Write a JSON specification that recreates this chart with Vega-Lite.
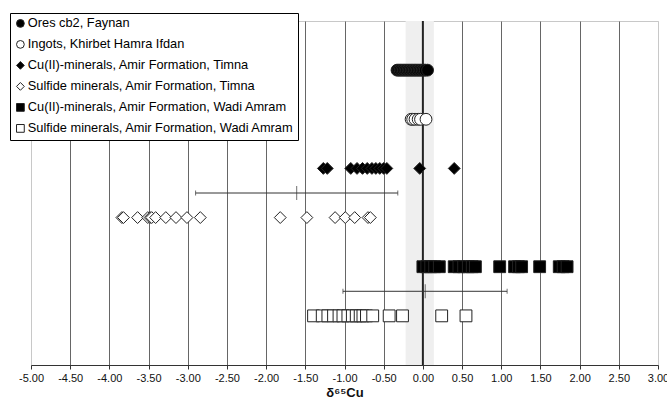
{
  "$schema": "https://vega.github.io/schema/vega-lite/v6.json",
  "width": 627,
  "height": 344,
  "autosize": {"type": "none"},
  "padding": {"left": 31, "top": 21, "right": 9, "bottom": 41},
  "background": "white",
  "config": {
    "view": {"stroke": "#c8c8c8", "strokeWidth": 1},
    "font": "Liberation Sans"
  },
  "datasets": {
    "pts": [
      {"series": "Ores cb2, Faynan", "x": -0.33, "row": 1},
      {"series": "Ores cb2, Faynan", "x": -0.31, "row": 1},
      {"series": "Ores cb2, Faynan", "x": -0.29, "row": 1},
      {"series": "Ores cb2, Faynan", "x": -0.27, "row": 1},
      {"series": "Ores cb2, Faynan", "x": -0.25, "row": 1},
      {"series": "Ores cb2, Faynan", "x": -0.23, "row": 1},
      {"series": "Ores cb2, Faynan", "x": -0.21, "row": 1},
      {"series": "Ores cb2, Faynan", "x": -0.19, "row": 1},
      {"series": "Ores cb2, Faynan", "x": -0.17, "row": 1},
      {"series": "Ores cb2, Faynan", "x": -0.15, "row": 1},
      {"series": "Ores cb2, Faynan", "x": -0.13, "row": 1},
      {"series": "Ores cb2, Faynan", "x": -0.11, "row": 1},
      {"series": "Ores cb2, Faynan", "x": -0.09, "row": 1},
      {"series": "Ores cb2, Faynan", "x": -0.07, "row": 1},
      {"series": "Ores cb2, Faynan", "x": -0.05, "row": 1},
      {"series": "Ores cb2, Faynan", "x": -0.03, "row": 1},
      {"series": "Ores cb2, Faynan", "x": -0.01, "row": 1},
      {"series": "Ores cb2, Faynan", "x": 0.01, "row": 1},
      {"series": "Ores cb2, Faynan", "x": 0.03, "row": 1},
      {"series": "Ores cb2, Faynan", "x": 0.06, "row": 1},
      {"series": "Ingots, Khirbet Hamra Ifdan", "x": -0.15, "row": 2},
      {"series": "Ingots, Khirbet Hamra Ifdan", "x": -0.13, "row": 2},
      {"series": "Ingots, Khirbet Hamra Ifdan", "x": -0.1, "row": 2},
      {"series": "Ingots, Khirbet Hamra Ifdan", "x": -0.06, "row": 2},
      {"series": "Ingots, Khirbet Hamra Ifdan", "x": -0.03, "row": 2},
      {"series": "Ingots, Khirbet Hamra Ifdan", "x": 0.04, "row": 2},
      {"series": "Cu(II)-minerals, Amir Formation, Timna", "x": -1.27, "row": 3},
      {"series": "Cu(II)-minerals, Amir Formation, Timna", "x": -1.22, "row": 3},
      {"series": "Cu(II)-minerals, Amir Formation, Timna", "x": -0.92, "row": 3},
      {"series": "Cu(II)-minerals, Amir Formation, Timna", "x": -0.84, "row": 3},
      {"series": "Cu(II)-minerals, Amir Formation, Timna", "x": -0.77, "row": 3},
      {"series": "Cu(II)-minerals, Amir Formation, Timna", "x": -0.71, "row": 3},
      {"series": "Cu(II)-minerals, Amir Formation, Timna", "x": -0.65, "row": 3},
      {"series": "Cu(II)-minerals, Amir Formation, Timna", "x": -0.6, "row": 3},
      {"series": "Cu(II)-minerals, Amir Formation, Timna", "x": -0.55, "row": 3},
      {"series": "Cu(II)-minerals, Amir Formation, Timna", "x": -0.5, "row": 3},
      {"series": "Cu(II)-minerals, Amir Formation, Timna", "x": -0.46, "row": 3},
      {"series": "Cu(II)-minerals, Amir Formation, Timna", "x": -0.04, "row": 3},
      {"series": "Cu(II)-minerals, Amir Formation, Timna", "x": 0.4, "row": 3},
      {"series": "Sulfide minerals, Amir Formation, Timna", "x": -3.84, "row": 4},
      {"series": "Sulfide minerals, Amir Formation, Timna", "x": -3.82, "row": 4},
      {"series": "Sulfide minerals, Amir Formation, Timna", "x": -3.64, "row": 4},
      {"series": "Sulfide minerals, Amir Formation, Timna", "x": -3.51, "row": 4},
      {"series": "Sulfide minerals, Amir Formation, Timna", "x": -3.48, "row": 4},
      {"series": "Sulfide minerals, Amir Formation, Timna", "x": -3.46, "row": 4},
      {"series": "Sulfide minerals, Amir Formation, Timna", "x": -3.41, "row": 4},
      {"series": "Sulfide minerals, Amir Formation, Timna", "x": -3.28, "row": 4},
      {"series": "Sulfide minerals, Amir Formation, Timna", "x": -3.15, "row": 4},
      {"series": "Sulfide minerals, Amir Formation, Timna", "x": -3.01, "row": 4},
      {"series": "Sulfide minerals, Amir Formation, Timna", "x": -2.84, "row": 4},
      {"series": "Sulfide minerals, Amir Formation, Timna", "x": -1.82, "row": 4},
      {"series": "Sulfide minerals, Amir Formation, Timna", "x": -1.48, "row": 4},
      {"series": "Sulfide minerals, Amir Formation, Timna", "x": -1.12, "row": 4},
      {"series": "Sulfide minerals, Amir Formation, Timna", "x": -0.99, "row": 4},
      {"series": "Sulfide minerals, Amir Formation, Timna", "x": -0.87, "row": 4},
      {"series": "Sulfide minerals, Amir Formation, Timna", "x": -0.7, "row": 4},
      {"series": "Sulfide minerals, Amir Formation, Timna", "x": -0.67, "row": 4},
      {"series": "Cu(II)-minerals, Amir Formation, Wadi Amram", "x": 0.0, "row": 5},
      {"series": "Cu(II)-minerals, Amir Formation, Wadi Amram", "x": 0.05, "row": 5},
      {"series": "Cu(II)-minerals, Amir Formation, Wadi Amram", "x": 0.1, "row": 5},
      {"series": "Cu(II)-minerals, Amir Formation, Wadi Amram", "x": 0.15, "row": 5},
      {"series": "Cu(II)-minerals, Amir Formation, Wadi Amram", "x": 0.21, "row": 5},
      {"series": "Cu(II)-minerals, Amir Formation, Wadi Amram", "x": 0.4, "row": 5},
      {"series": "Cu(II)-minerals, Amir Formation, Wadi Amram", "x": 0.46, "row": 5},
      {"series": "Cu(II)-minerals, Amir Formation, Wadi Amram", "x": 0.52, "row": 5},
      {"series": "Cu(II)-minerals, Amir Formation, Wadi Amram", "x": 0.58, "row": 5},
      {"series": "Cu(II)-minerals, Amir Formation, Wadi Amram", "x": 0.63, "row": 5},
      {"series": "Cu(II)-minerals, Amir Formation, Wadi Amram", "x": 0.67, "row": 5},
      {"series": "Cu(II)-minerals, Amir Formation, Wadi Amram", "x": 0.98, "row": 5},
      {"series": "Cu(II)-minerals, Amir Formation, Wadi Amram", "x": 1.17, "row": 5},
      {"series": "Cu(II)-minerals, Amir Formation, Wadi Amram", "x": 1.22, "row": 5},
      {"series": "Cu(II)-minerals, Amir Formation, Wadi Amram", "x": 1.26, "row": 5},
      {"series": "Cu(II)-minerals, Amir Formation, Wadi Amram", "x": 1.49, "row": 5},
      {"series": "Cu(II)-minerals, Amir Formation, Wadi Amram", "x": 1.74, "row": 5},
      {"series": "Cu(II)-minerals, Amir Formation, Wadi Amram", "x": 1.79, "row": 5},
      {"series": "Cu(II)-minerals, Amir Formation, Wadi Amram", "x": 1.84, "row": 5},
      {"series": "Sulfide minerals, Amir Formation, Wadi Amram", "x": -1.395, "row": 6},
      {"series": "Sulfide minerals, Amir Formation, Wadi Amram", "x": -1.284, "row": 6},
      {"series": "Sulfide minerals, Amir Formation, Wadi Amram", "x": -1.212, "row": 6},
      {"series": "Sulfide minerals, Amir Formation, Wadi Amram", "x": -1.14, "row": 6},
      {"series": "Sulfide minerals, Amir Formation, Wadi Amram", "x": -1.07, "row": 6},
      {"series": "Sulfide minerals, Amir Formation, Wadi Amram", "x": -1.02, "row": 6},
      {"series": "Sulfide minerals, Amir Formation, Wadi Amram", "x": -0.957, "row": 6},
      {"series": "Sulfide minerals, Amir Formation, Wadi Amram", "x": -0.9, "row": 6},
      {"series": "Sulfide minerals, Amir Formation, Wadi Amram", "x": -0.85, "row": 6},
      {"series": "Sulfide minerals, Amir Formation, Wadi Amram", "x": -0.8, "row": 6},
      {"series": "Sulfide minerals, Amir Formation, Wadi Amram", "x": -0.765, "row": 6},
      {"series": "Sulfide minerals, Amir Formation, Wadi Amram", "x": -0.72, "row": 6},
      {"series": "Sulfide minerals, Amir Formation, Wadi Amram", "x": -0.64, "row": 6},
      {"series": "Sulfide minerals, Amir Formation, Wadi Amram", "x": -0.43, "row": 6},
      {"series": "Sulfide minerals, Amir Formation, Wadi Amram", "x": -0.26, "row": 6},
      {"series": "Sulfide minerals, Amir Formation, Wadi Amram", "x": 0.24, "row": 6},
      {"series": "Sulfide minerals, Amir Formation, Wadi Amram", "x": 0.55, "row": 6}
    ],
    "err": [
      {"row": 3.5, "x": -2.9, "x2": -0.32},
      {"row": 5.5, "x": -1.02, "x2": 1.075}
    ],
    "caps": [
      {"row": 3.5, "x": -2.9},
      {"row": 3.5, "x": -0.32},
      {"row": 5.5, "x": -1.02},
      {"row": 5.5, "x": 1.075}
    ],
    "means": [
      {"row": 3.5, "x": -1.61},
      {"row": 5.5, "x": 0.03}
    ],
    "band": [
      {"x": -0.22, "x2": 0.14}
    ],
    "zero": [
      {"x": 0}
    ]
  },
  "encoding": {
    "x": {"field": "x", "type": "quantitative", "scale": {"domain": [-5, 3], "nice": false, "zero": false},
      "axis": {
        "values": [-5, -4.5, -4, -3.5, -3, -2.5, -2, -1.5, -1, -0.5, 0, 0.5, 1, 1.5, 2, 2.5, 3],
        "labelExpr": "replace(format(datum.value, '.2f'), '\u2212', '-')",
        "labelFlush": false,
        "labelOverlap": false,
        "title": "δ⁶⁵Cu",
        "grid": true,
        "gridColor": {"condition": {"test": "datum.value == -5 || datum.value == 3", "value": "#c8c8c8"}, "value": "#666"},
        "gridWidth": 1,
        "domainColor": "#333",
        "tickColor": "#333",
        "tickSize": 4,
        "labelFont": "Liberation Sans",
        "labelFontSize": 11,
        "labelColor": "#111",
        "labelPadding": 3,
        "titleFont": "Liberation Sans",
        "titleFontSize": 13,
        "titleFontWeight": "bold",
        "titleColor": "#111",
        "titlePadding": 3
      }
    }
  },
  "layer": [
    {
      "data": {"name": "band"},
      "mark": {"type": "rect", "color": "#efefef"},
      "encoding": {
        "x2": {"field": "x2"}
      }
    },
    {
      "data": {"name": "zero"},
      "mark": {"type": "rule", "color": "#222", "strokeWidth": 2},
      "encoding": {}
    },
    {
      "data": {"name": "err"},
      "mark": {"type": "rule", "color": "#333", "strokeWidth": 1},
      "encoding": {
        "x2": {"field": "x2"},
        "y": {"field": "row", "type": "quantitative", "scale": {"domain": [0, 7], "reverse": true, "nice": false, "zero": false}, "axis": null}
      }
    },
    {
      "data": {"name": "caps"},
      "mark": {"type": "tick", "orient": "vertical", "color": "#333", "size": 5, "thickness": 1},
      "encoding": {
        "y": {"field": "row", "type": "quantitative", "scale": {"domain": [0, 7], "reverse": true, "nice": false, "zero": false}, "axis": null}
      }
    },
    {
      "data": {"name": "means"},
      "mark": {"type": "tick", "orient": "vertical", "color": "#333", "size": 14, "thickness": 1},
      "encoding": {
        "y": {"field": "row", "type": "quantitative", "scale": {"domain": [0, 7], "reverse": true, "nice": false, "zero": false}, "axis": null}
      }
    },
    {
      "data": {"name": "pts"},
      "mark": {"type": "point", "filled": false, "strokeWidth": 1, "opacity": 1, "fillOpacity": 1, "strokeOpacity": 1, "size": 140},
      "encoding": {
        "y": {"field": "row", "type": "quantitative", "scale": {"domain": [0, 7], "reverse": true, "nice": false, "zero": false}, "axis": null},
        "shape": {
          "field": "series", "type": "nominal",
          "scale": {
            "domain": ["Ores cb2, Faynan", "Ingots, Khirbet Hamra Ifdan", "Cu(II)-minerals, Amir Formation, Timna", "Sulfide minerals, Amir Formation, Timna", "Cu(II)-minerals, Amir Formation, Wadi Amram", "Sulfide minerals, Amir Formation, Wadi Amram"],
            "range": ["circle", "circle", "diamond", "diamond", "square", "square"]
          },
          "legend": {
            "title": null,
            "orient": "none",
            "legendX": -21,
            "legendY": -8,
            "strokeColor": "#000",
            "fillColor": "white",
            "padding": 4,
            "labelFont": "Liberation Sans",
            "labelFontSize": 12.8,
            "labelColor": "#000",
            "labelLimit": 0,
            "rowPadding": 7,
            "symbolSize": 60,
            "symbolStrokeWidth": 1,
            "labelOffset": 1
          }
        },
        "fill": {
          "field": "series", "type": "nominal",
          "scale": {
            "domain": ["Ores cb2, Faynan", "Ingots, Khirbet Hamra Ifdan", "Cu(II)-minerals, Amir Formation, Timna", "Sulfide minerals, Amir Formation, Timna", "Cu(II)-minerals, Amir Formation, Wadi Amram", "Sulfide minerals, Amir Formation, Wadi Amram"],
            "range": ["#000", "#fff", "#000", "#fff", "#000", "#fff"]
          },
          "legend": {
            "title": null,
            "orient": "none",
            "legendX": -21,
            "legendY": -8,
            "strokeColor": "#000",
            "fillColor": "white",
            "padding": 4,
            "labelFont": "Liberation Sans",
            "labelFontSize": 12.8,
            "labelColor": "#000",
            "labelLimit": 0,
            "rowPadding": 7,
            "symbolSize": 60,
            "symbolStrokeWidth": 1,
            "labelOffset": 1
          }
        },
        "stroke": {
          "field": "series", "type": "nominal",
          "scale": {
            "domain": ["Ores cb2, Faynan", "Ingots, Khirbet Hamra Ifdan", "Cu(II)-minerals, Amir Formation, Timna", "Sulfide minerals, Amir Formation, Timna", "Cu(II)-minerals, Amir Formation, Wadi Amram", "Sulfide minerals, Amir Formation, Wadi Amram"],
            "range": ["#222", "#222", "#222", "#222", "#222", "#222"]
          },
          "legend": {
            "title": null,
            "orient": "none",
            "legendX": -21,
            "legendY": -8,
            "strokeColor": "#000",
            "fillColor": "white",
            "padding": 4,
            "labelFont": "Liberation Sans",
            "labelFontSize": 12.8,
            "labelColor": "#000",
            "labelLimit": 0,
            "rowPadding": 7,
            "symbolSize": 60,
            "symbolStrokeWidth": 1,
            "labelOffset": 1
          }
        }
      }
    }
  ]
}
